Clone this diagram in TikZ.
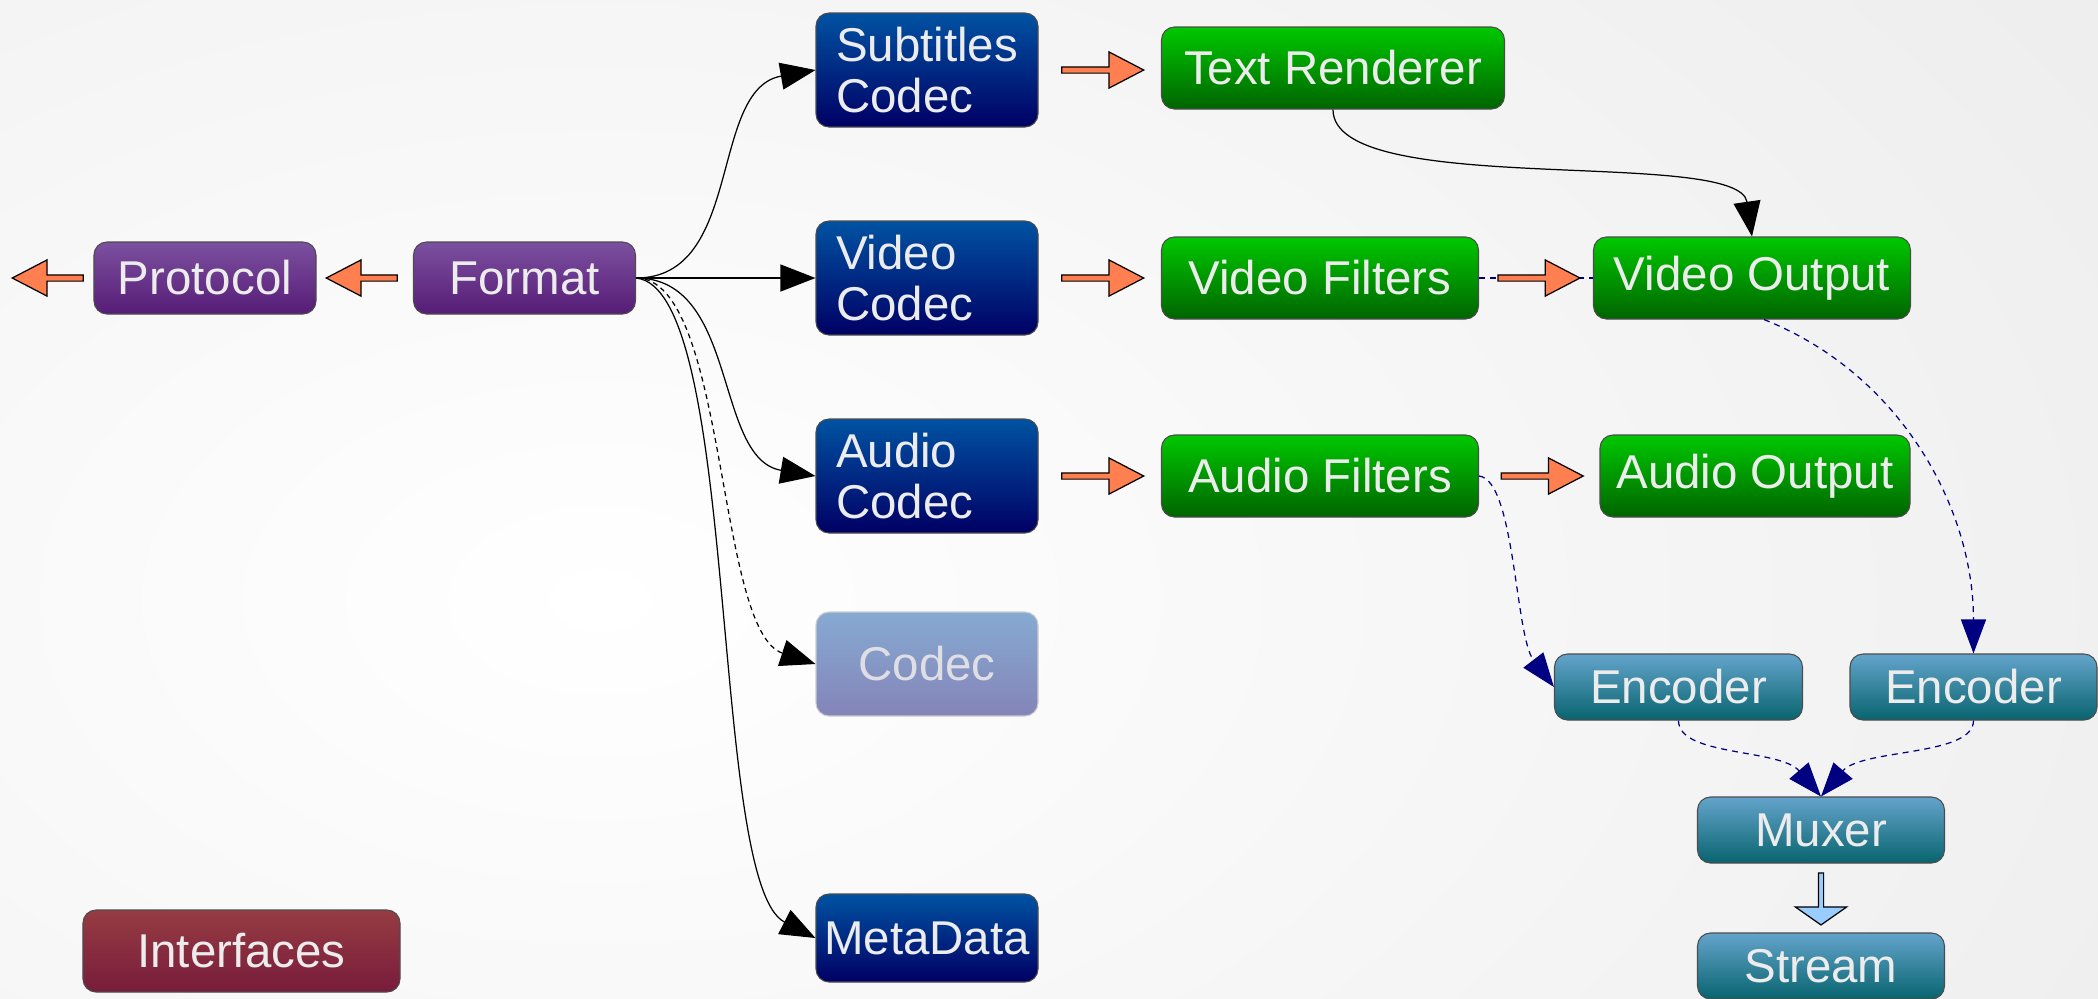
\documentclass[tikz,border=0pt]{standalone}
\usepackage{fontspec}
\setmainfont{Liberation Sans}
\usetikzlibrary{shapes.arrows,arrows.meta}

\definecolor{purptop}{RGB}{124,80,160}
\definecolor{purpbot}{RGB}{86,28,118}
\definecolor{bluetop}{RGB}{0,82,162}
\definecolor{bluebot}{RGB}{0,0,100}
\definecolor{ghosttop}{RGB}{134,170,210}
\definecolor{ghostbot}{RGB}{132,132,184}
\definecolor{ghosttext}{RGB}{222,222,228}
\definecolor{greentop}{RGB}{0,200,0}
\definecolor{greenbot}{RGB}{0,100,0}
\definecolor{tealtop}{RGB}{100,164,204}
\definecolor{tealbot}{RGB}{8,100,110}
\definecolor{ifacetop}{RGB}{150,60,66}
\definecolor{ifacebot}{RGB}{120,28,60}
\definecolor{boxtext}{RGB}{236,236,236}
\definecolor{arrowfill}{RGB}{255,127,80}
\definecolor{skyarrow}{RGB}{153,204,255}
\definecolor{flowblue}{RGB}{0,0,128}

\newcommand{\boxfont}{\fontsize{13.5}{14.5}\selectfont}

\begin{document}
\begin{tikzpicture}
[
  x=1mm, y=1mm,
  ibox/.style={rectangle,rounded corners=1.3mm,draw=black!70,line width=0.3pt,text=boxtext,font=\boxfont,inner sep=0pt},
  fmtbox/.style={ibox,top color=purptop,bottom color=purpbot,minimum width=22.2mm,minimum height=7.2mm},
  codec/.style={ibox,top color=bluetop,bottom color=bluebot,minimum width=22.2mm,minimum height=11.4mm},
  twoline/.style={text width=18.2mm,align=left},
  ghost/.style={codec,draw=black!20,top color=ghosttop,bottom color=ghostbot,text=ghosttext,minimum height=10.4mm},
  outbox/.style={ibox,top color=greentop,bottom color=greenbot,minimum width=31.7mm,minimum height=8.2mm},
  encbox/.style={ibox,top color=tealtop,bottom color=tealbot,minimum width=24.7mm,minimum height=6.6mm},
  ifbox/.style={ibox,top color=ifacetop,bottom color=ifacebot,minimum width=31.7mm,minimum height=8.2mm},
  link/.style={-{Triangle[length=3.5mm,width=2.7mm]},line width=0.35pt},
  flow/.style={flowblue,dash pattern=on 0.6mm off 0.5mm,line width=0.35pt},
  flowtip/.style={flow,-{Triangle[length=3.4mm,width=2.5mm]}},
  fat/.style={single arrow,draw=black,line width=0.35pt,fill=arrowfill,inner sep=0.25mm,
    minimum height=8.2mm,minimum width=2.7mm,single arrow head extend=1.5mm,
    single arrow tip angle=55,sloped,allow upside down,midway}
]

% background
\begin{scope}
\clip (0,0) rectangle (209.8,-99.8);
\shade[inner color=white,outer color=black!10] (-200,100) rectangle (320,-220);
\end{scope}
\useasboundingbox (0,0) rectangle (209.8,-99.8);

% input side
\node[fmtbox] (proto) at (20.5,-27.8) {Protocol};
\node[fmtbox] (fmt) at (52.45,-27.8) {Format};
\coordinate (lft) at (0.8,-27.8);
\node[ifbox] (iface) at (24.15,-95.1) {Interfaces};

% codecs
\node[codec,twoline] (sub) at (92.7,-7.0) {Subtitles\\Codec};
\node[codec,twoline] (vcod) at (92.7,-27.8) {Video\\Codec};
\node[codec,twoline] (acod) at (92.7,-47.6) {Audio\\Codec};
\node[ghost] (gcod) at (92.7,-66.4) {Codec};
\node[codec,minimum height=8.8mm] (meta) at (92.7,-93.8) {MetaData};

% outputs
\node[outbox,minimum width=34.3mm] (txt) at (133.3,-6.8) {Text Renderer};
\node[outbox] (vflt) at (132.0,-27.8) {Video Filters};
\node[outbox] (vout) at (175.2,-27.8) {Video Output};
\node[outbox] (aflt) at (132.0,-47.6) {Audio Filters};
\node[outbox,minimum width=31.0mm] (aout) at (175.5,-47.6) {Audio Output};

% encoding
\node[encbox,minimum width=24.8mm] (encl) at (167.85,-68.7) {Encoder};
\node[encbox] (encr) at (197.35,-68.7) {Encoder};
\node[encbox] (mux) at (182.1,-83.0) {Muxer};
\node[encbox] (strm) at (182.1,-96.6) {Stream};

% demuxing
\draw[link] (fmt.east) .. controls +(10.8,0) and +(-10.7,-1.9) .. (sub.west);
\draw[link] (fmt.east) -- (vcod.west);
\draw[link] (fmt.east) .. controls +(10.3,0) and +(-10.2,1.7) .. (acod.west);
\draw[link,dash pattern=on 0.5mm off 0.4mm] (fmt.east) .. controls +(9.2,0) and +(-10.0,3.3) .. (gcod.west);
\draw[link] (fmt.east) .. controls +(10.5,-1) and +(-10.7,5.5) .. (meta.west);
\draw[link] (txt.south) .. controls +(0,-9.0) and +(-1.3,9.0) .. (vout.north);

% encoding paths
\draw[flow] (vflt.east) -- (vout.west);
\draw[flowtip] ([xshift=1.2mm]vout.south) .. controls +(13.6,-5.4) and +(0,14.6) .. (encr.north);
\draw[flowtip] (aflt.east) .. controls +(3.6,-0.4) and +(-3.9,5.1) .. (encl.west);
\draw[flowtip] (encl.south) .. controls +(0,-3.6) and +(-4.1,4.8) .. (mux.north);
\draw[flowtip] (encr.south) .. controls +(0,-3.6) and +(4.1,4.8) .. (mux.north);

% block arrows
\path (proto.west) -- (lft) node[fat,minimum height=7.1mm] (fa0) {};
\path (fmt.west) -- (proto.east) node[fat,minimum height=7.1mm] (fa1) {};
\path (sub.east) -- (sub.east -| txt.west) node[fat] (fa2) {};
\path (vcod.east) -- (vflt.west) node[fat] (fa3) {};
\path (acod.east) -- (aflt.west) node[fat] (fa4) {};
\path (vflt.east) -- (vout.west) node[fat] (fa5) {};
\path (aflt.east) -- (aout.west) node[fat] (fa6) {};
\path (mux.south) -- (strm.north) node[fat,fill=skyarrow,minimum height=5.2mm,minimum width=3.8mm,
  inner sep=0.2mm,single arrow head extend=2.3mm,single arrow tip angle=110] (fa7) {};

\end{tikzpicture}
\end{document}
